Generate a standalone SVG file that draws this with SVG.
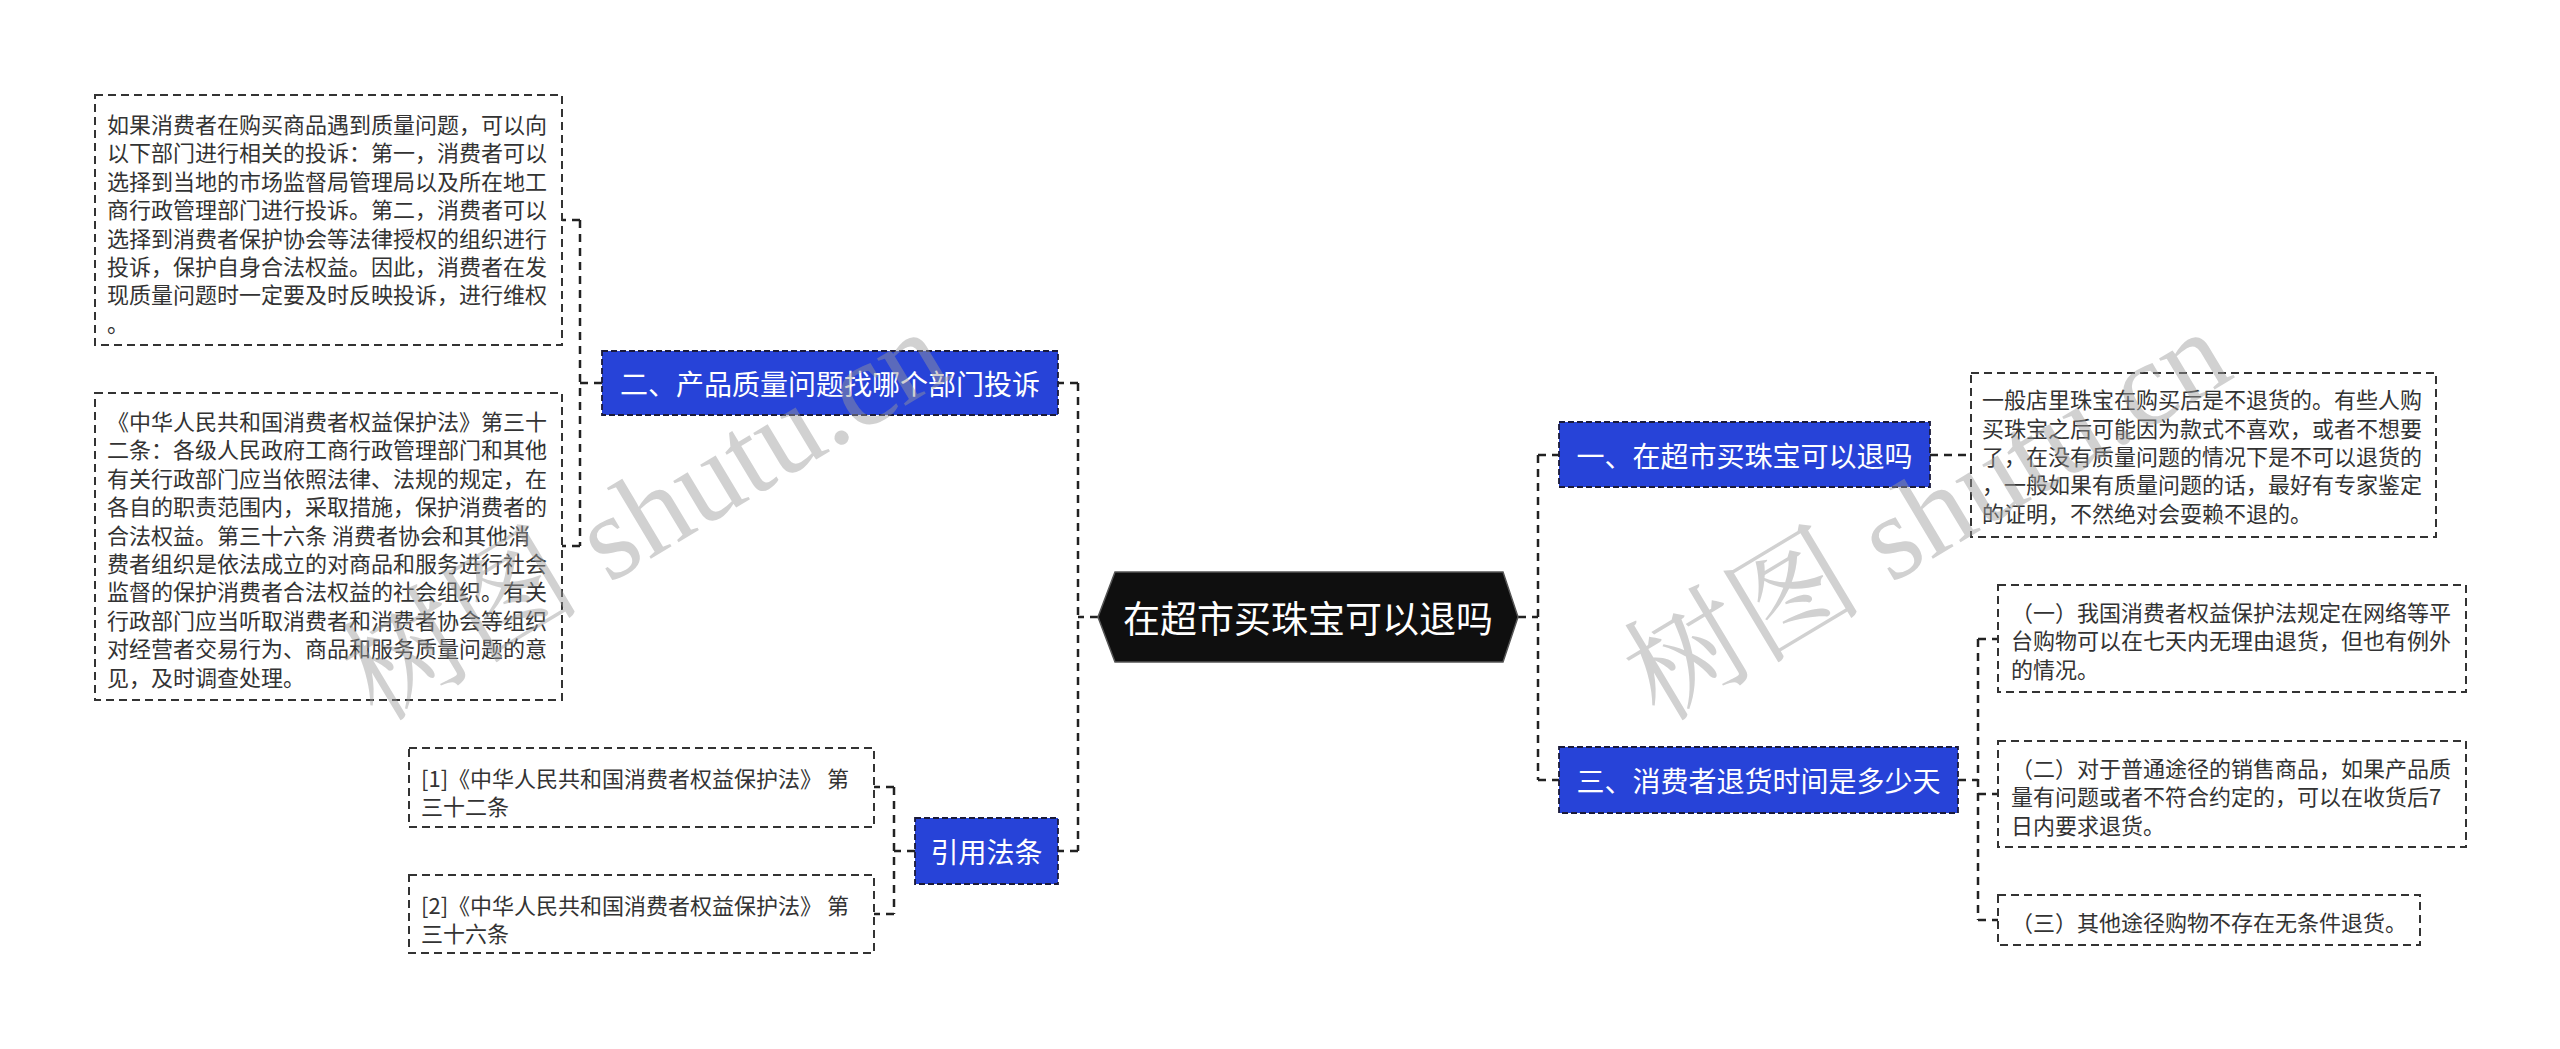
<svg xmlns="http://www.w3.org/2000/svg" width="2560" height="1049" viewBox="0 0 2560 1049">
<style>
.bg{fill:#ffffff}
.conn{fill:none;stroke:#222;stroke-width:2.5;stroke-dasharray:8 6}
.box{fill:#ffffff;stroke:#333;stroke-width:2;stroke-dasharray:8 5}
.blue{fill:#2743d8;stroke:#1a1a3a;stroke-width:1.8;stroke-dasharray:6 3}
.hex{fill:#0f0f0f;stroke:#555;stroke-width:1.5}
.t{font-family:"Noto Sans CJK SC","Noto Sans",sans-serif;font-size:22px;fill:#333;dominant-baseline:central}
.nt{font-family:"Noto Sans CJK SC","Noto Sans",sans-serif;font-size:28px;fill:#ffffff;text-anchor:middle;dominant-baseline:central}
.ct{font-family:"Noto Sans CJK SC","Noto Sans",sans-serif;font-size:37px;fill:#ffffff;text-anchor:middle;dominant-baseline:central}
.wm{font-family:"Liberation Serif","Noto Serif CJK SC","Noto Sans CJK SC",serif;font-size:120px;fill:#9a9a9a;opacity:0.45;text-anchor:middle;dominant-baseline:central}
</style>
<rect class="bg" x="0" y="0" width="2560" height="1049"/>

<g id="connectors">
  <!-- left trunk -->
  <path class="conn" d="M1098 617 H1078 M1078 383 V851 M1078 383 H1058 M1078 851 H1058"/>
  <!-- node 二 bracket -->
  <path class="conn" d="M602 383 H580 M580 220 V546 M580 220 H562 M580 546 H562"/>
  <!-- 引用法条 bracket -->
  <path class="conn" d="M915 851 H894 M894 787 V914 M894 787 H874 M894 914 H874"/>
  <!-- right trunk -->
  <path class="conn" d="M1518 617 H1538 M1538 455 V780 M1538 455 H1559 M1538 780 H1559"/>
  <!-- node 一 to text -->
  <path class="conn" d="M1930 455 H1971"/>
  <!-- node 三 bracket -->
  <path class="conn" d="M1958 780 H1978 M1978 639 V920 M1978 639 H1998 M1978 794 H1998 M1978 920 H1998"/>
</g>

<g id="center">
  <polygon class="hex" points="1098,617 1115,572 1503,572 1518,617 1503,662 1115,662"/>
  <text class="ct" x="1308" y="617">在超市买珠宝可以退吗</text>
</g>

<g id="node-er">
  <rect class="blue" x="602" y="351" width="456" height="64"/>
  <text class="nt" x="830" y="383">二、产品质量问题找哪个部门投诉</text>
</g>

<g id="box-l1">
  <rect class="box" x="95" y="95" width="467" height="250"/>
  <text class="t" x="107" y="123">如果消费者在购买商品遇到质量问题，可以向</text>
  <text class="t" x="107" y="151.4">以下部门进行相关的投诉：第一，消费者可以</text>
  <text class="t" x="107" y="179.8">选择到当地的市场监督局管理局以及所在地工</text>
  <text class="t" x="107" y="208.2">商行政管理部门进行投诉。第二，消费者可以</text>
  <text class="t" x="107" y="236.6">选择到消费者保护协会等法律授权的组织进行</text>
  <text class="t" x="107" y="265">投诉，保护自身合法权益。因此，消费者在发</text>
  <text class="t" x="107" y="293.4">现质量问题时一定要及时反映投诉，进行维权</text>
  <text class="t" x="107" y="321.8">。</text>
</g>

<g id="box-l2">
  <rect class="box" x="95" y="393" width="467" height="307"/>
  <text class="t" x="107" y="420">《中华人民共和国消费者权益保护法》第三十</text>
  <text class="t" x="107" y="448.4">二条：各级人民政府工商行政管理部门和其他</text>
  <text class="t" x="107" y="476.8">有关行政部门应当依照法律、法规的规定，在</text>
  <text class="t" x="107" y="505.2">各自的职责范围内，采取措施，保护消费者的</text>
  <text class="t" x="107" y="533.6">合法权益。第三十六条 消费者协会和其他消</text>
  <text class="t" x="107" y="562">费者组织是依法成立的对商品和服务进行社会</text>
  <text class="t" x="107" y="590.4">监督的保护消费者合法权益的社会组织。有关</text>
  <text class="t" x="107" y="618.8">行政部门应当听取消费者和消费者协会等组织</text>
  <text class="t" x="107" y="647.2">对经营者交易行为、商品和服务质量问题的意</text>
  <text class="t" x="107" y="675.6">见，及时调查处理。</text>
</g>

<g id="node-yinyong">
  <rect class="blue" x="915" y="818" width="143" height="66"/>
  <text class="nt" x="986.5" y="851">引用法条</text>
</g>

<g id="box-ref1">
  <rect class="box" x="409" y="748" width="465" height="79"/>
  <text class="t" x="421" y="777">[1]《中华人民共和国消费者权益保护法》 第</text>
  <text class="t" x="421" y="805">三十二条</text>
</g>

<g id="box-ref2">
  <rect class="box" x="409" y="875" width="465" height="78"/>
  <text class="t" x="421" y="904">[2]《中华人民共和国消费者权益保护法》 第</text>
  <text class="t" x="421" y="932">三十六条</text>
</g>

<g id="node-yi">
  <rect class="blue" x="1559" y="422" width="371" height="65"/>
  <text class="nt" x="1744.5" y="455">一、在超市买珠宝可以退吗</text>
</g>

<g id="box-r1">
  <rect class="box" x="1971" y="373" width="465" height="164"/>
  <text class="t" x="1982" y="398.2">一般店里珠宝在购买后是不退货的。有些人购</text>
  <text class="t" x="1982" y="426.6">买珠宝之后可能因为款式不喜欢，或者不想要</text>
  <text class="t" x="1982" y="455">了，在没有质量问题的情况下是不可以退货的</text>
  <text class="t" x="1982" y="483.4">，一般如果有质量问题的话，最好有专家鉴定</text>
  <text class="t" x="1982" y="511.8">的证明，不然绝对会耍赖不退的。</text>
</g>

<g id="node-san">
  <rect class="blue" x="1559" y="747" width="399" height="66"/>
  <text class="nt" x="1758.5" y="780">三、消费者退货时间是多少天</text>
</g>

<g id="box-r2">
  <rect class="box" x="1998" y="585" width="468" height="107"/>
  <text class="t" x="2011" y="611">（一）我国消费者权益保护法规定在网络等平</text>
  <text class="t" x="2011" y="639.4">台购物可以在七天内无理由退货，但也有例外</text>
  <text class="t" x="2011" y="667.8">的情况。</text>
</g>

<g id="box-r3">
  <rect class="box" x="1998" y="741" width="468" height="106"/>
  <text class="t" x="2011" y="767">（二）对于普通途径的销售商品，如果产品质</text>
  <text class="t" x="2011" y="795.4">量有问题或者不符合约定的，可以在收货后7</text>
  <text class="t" x="2011" y="823.8">日内要求退货。</text>
</g>

<g id="box-r4">
  <rect class="box" x="1998" y="895" width="422" height="50"/>
  <text class="t" x="2011" y="921">（三）其他途径购物不存在无条件退货。</text>
</g>

<g id="watermark">
  <text class="wm" x="645" y="515" transform="rotate(-31 645 515)">树图 shutu.cn</text>
  <text class="wm" x="1927" y="515" transform="rotate(-31 1927 515)">树图 shutu.cn</text>
</g>
</svg>
